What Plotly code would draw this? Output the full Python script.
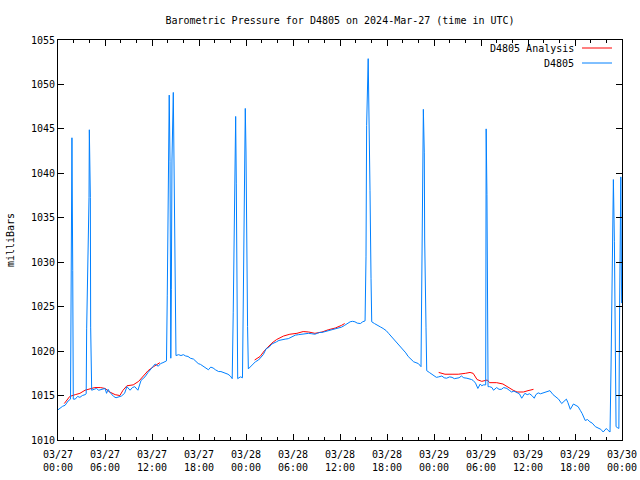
import pandas as pd
import plotly.graph_objects as go

# ---- data (hours after 2024-03-27 00:00 UTC) ----
obs_hours = [
    0.0, 0.26, 0.6, 0.9, 1.3, 1.6,
    1.68, 1.78, 1.88, 1.95,
    2.2, 2.5, 2.8, 3.1, 3.45, 3.6,
    3.66, 3.96, 4.0, 4.13, 4.17,
    4.3, 4.6, 4.9, 5.2, 5.6, 6.0, 6.2, 6.4, 6.6, 7.1, 7.4, 7.7, 8.1, 8.5, 8.8,
    9.2, 9.5, 9.8, 10.2, 10.6, 11.1, 11.5, 12.0, 12.4, 12.8, 13.1, 13.4, 13.85,
    13.95, 14.08, 14.2, 14.3, 14.4, 14.47, 14.55, 14.72, 14.8, 14.97,
    15.06, 15.4, 15.7, 16.0, 16.3, 16.6, 16.9, 17.3, 17.6, 17.9, 18.2, 18.5,
    18.9, 19.2, 19.5, 19.8, 20.1, 20.5, 20.8, 21.1, 21.4, 21.7, 22.0, 22.24,
    22.37, 22.6, 22.68, 22.76, 22.85,
    22.94, 23.1, 23.3, 23.55,
    23.66, 23.78, 23.91, 24.0, 24.08, 24.2,
    24.3, 24.6, 24.9, 25.2, 25.6, 25.9, 26.2, 26.6, 26.9, 27.3, 27.6, 27.9,
    28.2, 28.6, 29.0, 29.4, 29.8, 30.3, 30.7, 31.1, 31.5, 32.0, 32.4, 32.8,
    33.1, 33.4, 33.7, 34.1, 34.5, 34.9, 35.4, 35.8, 36.2, 36.6, 37.0, 37.3,
    37.6, 37.9, 38.2, 38.6, 38.9, 39.2,
    39.32, 39.4, 39.6, 39.7, 39.83, 39.96,
    40.05, 40.4, 40.9, 41.2, 41.5, 41.9, 42.2, 42.5, 42.8, 43.1, 43.4, 43.8,
    44.1, 44.4, 44.7, 45.0, 45.4, 45.7, 46.0, 46.34,
    46.43, 46.56, 46.64, 46.76, 46.81, 46.98,
    47.07, 47.4, 47.7, 48.0, 48.3, 48.6, 49.0, 49.3, 49.6, 50.0, 50.3, 50.6,
    50.9, 51.2, 51.5, 51.8, 52.2, 52.5, 52.8, 53.0, 53.3, 53.6, 53.9, 54.1,
    54.3, 54.6,
    54.66, 54.76, 54.82,
    54.9, 55.1, 55.4, 55.6, 56.0, 56.3, 56.6, 56.9, 57.3, 57.6, 57.9, 58.2,
    58.6, 58.9, 59.2, 59.6, 59.9, 60.2, 60.5, 60.8, 61.0, 61.3, 61.6, 61.9,
    62.3, 62.8, 63.2, 63.5, 63.9, 64.3, 64.6, 64.9, 65.1, 65.4, 65.8, 66.1,
    66.4, 66.7, 66.9, 67.3, 67.6, 67.9, 68.2, 68.6, 69.0, 69.3, 69.6, 70.0,
    70.2, 70.47,
    70.6, 70.77, 70.9, 71.03, 71.11,
    71.24, 71.4, 71.6,
    71.7, 71.85, 71.95,
]
obs_values = [
    1013.4, 1013.6, 1013.8, 1013.9, 1014.4, 1014.6,
    1029.1, 1044.0, 1029.1, 1014.6,
    1014.6, 1014.9, 1014.8, 1015.0, 1015.1, 1015.2,
    1022.5, 1037.3, 1044.9, 1037.3, 1022.7,
    1015.6, 1015.7, 1015.8, 1015.6, 1015.7, 1015.8, 1015.25, 1015.7, 1015.4, 1014.9, 1014.75, 1014.8, 1014.95, 1015.25, 1016.0,
    1015.6, 1015.9, 1016.0, 1015.6, 1016.7, 1017.1, 1017.6, 1018.1, 1018.55, 1018.3, 1018.6, 1018.7, 1018.9,
    1026.3, 1041.3, 1048.8, 1041.3, 1019.2, 1026.9, 1041.5, 1049.1, 1041.5, 1026.6,
    1019.5, 1019.6, 1019.5, 1019.6, 1019.45, 1019.4, 1019.2, 1019.1, 1018.8, 1018.6, 1018.5, 1018.3,
    1018.0, 1017.9, 1018.2, 1018.1, 1017.9, 1017.7, 1017.7, 1017.6, 1017.5, 1017.4, 1017.2, 1016.9,
    1024.3, 1038.9, 1046.4, 1038.9, 1024.3,
    1016.9, 1017.0, 1017.1, 1017.0,
    1025.0, 1039.8, 1047.3, 1042.4, 1032.5, 1022.75,
    1018.0, 1018.3, 1018.6, 1018.8, 1019.0, 1019.3, 1019.6, 1020.3, 1020.4, 1020.8, 1020.9, 1021.05,
    1021.2, 1021.3, 1021.35, 1021.4, 1021.6, 1021.8, 1021.85, 1021.9, 1021.95, 1022.0, 1021.95, 1021.9,
    1022.0, 1022.1, 1022.1, 1022.2, 1022.3, 1022.4, 1022.5, 1022.55, 1022.7, 1022.9, 1023.1, 1023.3,
    1023.35, 1023.3, 1023.15, 1023.1, 1023.3, 1023.4,
    1030.6, 1045.4, 1052.9, 1047.9, 1038.1, 1028.2,
    1023.3, 1023.1, 1022.9, 1022.7, 1022.55, 1022.3, 1022.0, 1021.7, 1021.4, 1021.2, 1020.9, 1020.5,
    1020.1, 1019.8, 1019.4, 1019.1, 1018.8, 1018.7, 1018.6, 1018.25,
    1025.5, 1040.0, 1047.2, 1042.3, 1032.5, 1022.7,
    1017.8, 1017.6, 1017.4, 1017.2, 1017.05, 1017.1, 1017.2, 1017.0, 1016.95, 1017.1, 1017.05, 1016.9,
    1016.95, 1017.0, 1017.2, 1017.0, 1016.95, 1016.9, 1016.8, 1016.7, 1016.4, 1015.8, 1016.3, 1016.1,
    1016.2, 1016.2,
    1045.0, 1037.6, 1023.3,
    1016.0, 1016.0, 1015.9, 1015.6, 1015.9, 1015.7, 1015.7, 1015.9, 1015.8, 1015.6, 1015.4, 1015.5,
    1015.3, 1015.2, 1014.7, 1015.25, 1015.1, 1015.2, 1015.0, 1014.7, 1015.1, 1015.3, 1015.2, 1015.3,
    1015.4, 1015.55, 1015.1, 1014.9, 1014.6, 1014.1, 1014.4, 1014.6, 1014.2, 1013.45, 1014.05, 1013.9,
    1013.75, 1013.3, 1013.0, 1012.2, 1012.3, 1012.05, 1011.9, 1011.5, 1011.3, 1011.2, 1010.9, 1011.3,
    1011.1, 1010.9,
    1018.1, 1032.3, 1039.3, 1032.3, 1018.2,
    1011.5, 1011.4, 1011.3,
    1025.4, 1039.6, 1025.4,
]

analysis_hours = [
    0.8, 1.5, 2.2, 2.8, 3.45, 4.1, 4.7, 5.4, 6.0, 6.6, 7.3, 7.9, 8.3, 8.8,
    9.6, 10.3, 10.9, 11.5, 12.2, 12.8, 13.0,
    13.5,
    25.1, 25.8, 26.4, 27.3, 27.9, 28.8, 29.6, 30.5, 31.3, 32.0, 32.8, 33.7,
    34.5, 35.4, 36.2, 36.6,
    42.0,
    48.6, 49.4, 50.3, 51.1, 52.0, 52.6, 53.0, 53.5, 54.1, 54.8, 55.1, 56.0,
    56.8, 57.5, 58.1, 58.6, 59.4, 60.0, 60.7,
]
analysis_values = [
    1014.1, 1014.9, 1015.1, 1015.25, 1015.6, 1015.8, 1015.9, 1015.9, 1015.8, 1015.4, 1015.1, 1015.0, 1015.6, 1016.1,
    1016.2, 1016.6, 1017.2, 1017.8, 1018.25, 1018.6, 1018.7,
    None,
    1019.0, 1019.4, 1020.1, 1020.9, 1021.3, 1021.7, 1021.9, 1022.0, 1022.2, 1022.15, 1022.0, 1022.15,
    1022.4, 1022.6, 1022.9, 1023.1,
    None,
    1017.6, 1017.4, 1017.4, 1017.4, 1017.5, 1017.6, 1017.5, 1016.8, 1016.6, 1016.75, 1016.45, 1016.45,
    1016.3, 1015.9, 1015.6, 1015.4, 1015.4, 1015.55, 1015.7,
]

tick_hours = [0, 6, 12, 18, 24, 30, 36, 42, 48, 54, 60, 66, 72]
tick_labels = ["03/27<br>00:00", "03/27<br>06:00", "03/27<br>12:00", "03/27<br>18:00",
               "03/28<br>00:00", "03/28<br>06:00", "03/28<br>12:00", "03/28<br>18:00",
               "03/29<br>00:00", "03/29<br>06:00", "03/29<br>12:00", "03/29<br>18:00",
               "03/30<br>00:00"]
y_ticks = [1010, 1015, 1020, 1025, 1030, 1035, 1040, 1045, 1050, 1055]

series_names = ["D4805 Analysis", "D4805"]
series_colors = ["#ff0000", "#0080ff"]

# ---- build ----
t0 = pd.Timestamp("2024-03-27 00:00")
to_time = lambda hs: [t0 + pd.Timedelta(hours=h) for h in hs]

FONT = "DejaVu Sans Mono"
fig = go.Figure()
fig.add_trace(go.Scatter(x=to_time(analysis_hours), y=analysis_values, mode="lines",
                         name=series_names[0], line=dict(color=series_colors[0], width=1),
                         connectgaps=False))
fig.add_trace(go.Scatter(x=to_time(obs_hours), y=obs_values, mode="lines",
                         name=series_names[1], line=dict(color=series_colors[1], width=1)))

L, R, T, B = 58, 18, 40, 40
W, H = 640, 480
pw, ph = W - L - R, H - T - B

fig.update_layout(
    width=W, height=H,
    margin=dict(l=L, r=R, t=T, b=B, autoexpand=False),
    paper_bgcolor="white", plot_bgcolor="white",
    showlegend=False,
    font=dict(family=FONT, size=10, color="black"),
    title=dict(text="Barometric Pressure for D4805 on 2024-Mar-27 (time in UTC)",
               x=(L + pw / 2) / W, xanchor="center", y=1 - 20 / H, yanchor="middle",
               yref="container", font=dict(family=FONT, size=10, color="black")),
)
fig.update_xaxes(
    range=[t0, t0 + pd.Timedelta(hours=72)],
    tickvals=to_time(tick_hours), ticktext=tick_labels,
    ticks="inside", ticklen=6, tickcolor="black", ticklabelstandoff=5,
    minor=dict(dtick=2 * 3600 * 1000, ticks="inside", ticklen=3, tickcolor="black",
               tick0=t0),
    showline=True, linecolor="black", linewidth=1, mirror="allticks",
    showgrid=False, zeroline=False, automargin=False,
    tickfont=dict(family=FONT, size=10, color="black"),
)
fig.update_yaxes(
    range=[1010, 1055], tickvals=y_ticks, ticktext=[str(v) for v in y_ticks],
    ticks="inside", ticklen=6, tickcolor="black",
    showline=True, linecolor="black", linewidth=1, mirror="allticks",
    showgrid=False, zeroline=False, automargin=False,
    tickfont=dict(family=FONT, size=10, color="black"),
    title=dict(text="milliBars", standoff=14, font=dict(family=FONT, size=10, color="black")),
)

# gnuplot-style key: text right-aligned, sample line on the right
key_rows = [48, 63]
for name, color, py in zip(series_names, series_colors, key_rows):
    yp = (H - B - py) / ph
    fig.add_annotation(x=(576 - L) / pw, y=yp, xref="paper", yref="paper",
                       text=name, showarrow=False, xanchor="right", yanchor="middle",
                       font=dict(family=FONT, size=10, color="black"))
    fig.add_shape(type="line", xref="paper", yref="paper",
                  x0=(582 - L) / pw, x1=(612 - L) / pw, y0=yp, y1=yp,
                  line=dict(color=color, width=1))

fig.write_html("out.html")
